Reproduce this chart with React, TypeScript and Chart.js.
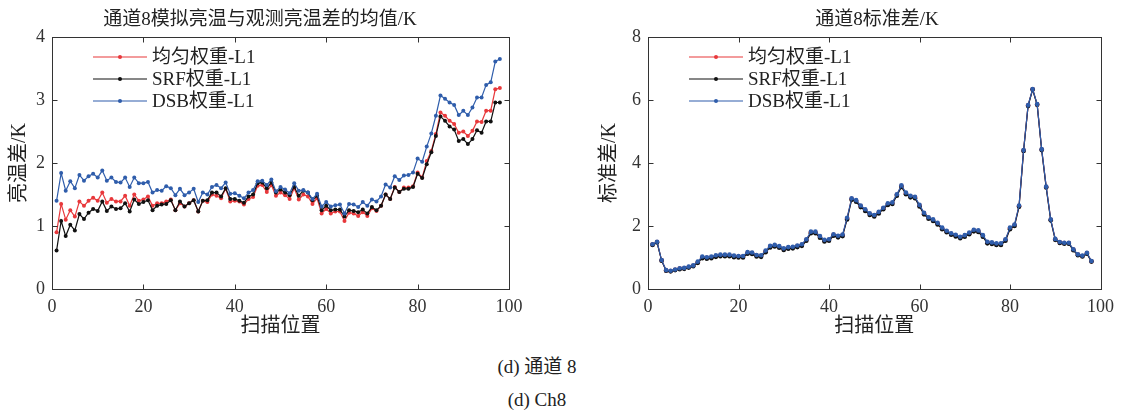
import React, { useEffect, useRef } from "react";
import { Chart, registerables } from "chart.js";
Chart.register(...registerables);

const FONT = '"Liberation Serif", "Noto Sans CJK SC", serif';

const scanPositions = Array.from({ length: 98 }, (_, i) => i + 1);
const xTicks = [0, 20, 40, 60, 80, 100];
const meanYTicks = [0, 1, 2, 3, 4];
const stdYTicks = [0, 2, 4, 6, 8];
const seriesNames = ["均匀权重-L1", "SRF权重-L1", "DSB权重-L1"];
const seriesColors = ["#e8383b", "#111111", "#2f5dab"];

const meanUniform = [
  0.90, 1.35, 1.10, 1.25, 1.15, 1.39, 1.32, 1.40, 1.45, 1.40,
  1.53, 1.37, 1.43, 1.39, 1.39, 1.48, 1.32, 1.50, 1.40, 1.42,
  1.47, 1.32, 1.36, 1.36, 1.39, 1.42, 1.25, 1.36, 1.31, 1.36,
  1.41, 1.23, 1.40, 1.38, 1.50, 1.48, 1.44, 1.59, 1.39, 1.40,
  1.39, 1.34, 1.43, 1.46, 1.64, 1.65, 1.54, 1.65, 1.48, 1.53,
  1.49, 1.43, 1.60, 1.42, 1.50, 1.47, 1.35, 1.44, 1.20, 1.27,
  1.20, 1.23, 1.23, 1.08, 1.21, 1.20, 1.16, 1.22, 1.16, 1.28,
  1.24, 1.32, 1.50, 1.43, 1.62, 1.54, 1.61, 1.61, 1.63, 1.85,
  1.77, 2.03, 2.19, 2.46, 2.80, 2.75, 2.67, 2.62, 2.48, 2.50,
  2.43, 2.51, 2.66, 2.65, 2.83, 2.83, 3.17, 3.19,
];
const meanSRF = [
  0.61, 1.08, 0.84, 1.02, 0.93, 1.19, 1.11, 1.21, 1.27, 1.24,
  1.39, 1.24, 1.31, 1.27, 1.28, 1.36, 1.23, 1.42, 1.35, 1.38,
  1.41, 1.25, 1.32, 1.34, 1.35, 1.41, 1.25, 1.39, 1.31, 1.36,
  1.41, 1.23, 1.40, 1.41, 1.53, 1.53, 1.47, 1.60, 1.43, 1.43,
  1.40, 1.37, 1.47, 1.50, 1.68, 1.69, 1.60, 1.69, 1.53, 1.58,
  1.53, 1.49, 1.62, 1.48, 1.56, 1.53, 1.41, 1.48, 1.25, 1.32,
  1.25, 1.26, 1.26, 1.15, 1.25, 1.24, 1.22, 1.26, 1.20, 1.30,
  1.25, 1.32, 1.50, 1.43, 1.61, 1.54, 1.59, 1.59, 1.62, 1.83,
  1.76, 1.98, 2.17, 2.43, 2.74, 2.67, 2.58, 2.53, 2.35, 2.38,
  2.30, 2.38, 2.52, 2.48, 2.66, 2.66, 2.96, 2.96,
];
const meanDSB = [
  1.40, 1.84, 1.56, 1.71, 1.60, 1.81, 1.72, 1.79, 1.83, 1.77,
  1.88, 1.72, 1.77, 1.70, 1.69, 1.77, 1.62, 1.77, 1.68, 1.68,
  1.70, 1.53, 1.57, 1.56, 1.63, 1.60, 1.49, 1.59, 1.49, 1.53,
  1.59, 1.38, 1.53, 1.50, 1.62, 1.65, 1.60, 1.69, 1.51, 1.52,
  1.48, 1.44, 1.53, 1.57, 1.71, 1.72, 1.65, 1.74, 1.55, 1.62,
  1.58, 1.52, 1.68, 1.56, 1.57, 1.53, 1.43, 1.51, 1.31, 1.38,
  1.31, 1.33, 1.34, 1.20, 1.35, 1.34, 1.30, 1.38, 1.32, 1.42,
  1.39, 1.47, 1.66, 1.61, 1.79, 1.73, 1.80, 1.81, 1.85, 2.07,
  2.02, 2.26, 2.47, 2.75, 3.07, 3.02, 2.96, 2.92, 2.76, 2.83,
  2.76, 2.88, 3.04, 3.04, 3.24, 3.28, 3.61, 3.65,
];

const stdUniform = [
  1.41, 1.49, 0.91, 0.59, 0.57, 0.61, 0.65, 0.66, 0.70, 0.74,
  0.85, 1.01, 0.99, 1.01, 1.05, 1.07, 1.07, 1.07, 1.04, 1.03,
  1.03, 1.15, 1.14, 1.06, 1.05, 1.20, 1.35, 1.38, 1.34, 1.27,
  1.31, 1.32, 1.36, 1.40, 1.56, 1.80, 1.80, 1.66, 1.54, 1.56,
  1.72, 1.67, 1.71, 2.24, 2.86, 2.80, 2.63, 2.51, 2.38, 2.33,
  2.43, 2.56, 2.70, 2.73, 2.99, 3.27, 3.04, 2.94, 2.91, 2.65,
  2.40, 2.26, 2.19, 2.08, 1.93, 1.83, 1.75, 1.70, 1.64, 1.69,
  1.77, 1.86, 1.84, 1.69, 1.48, 1.46, 1.43, 1.43, 1.56, 1.93,
  2.03, 2.63, 4.40, 5.83, 6.34, 5.86, 4.43, 3.24, 2.20, 1.58,
  1.48, 1.46, 1.46, 1.25, 1.09, 1.05, 1.14, 0.88,
];
const stdSRF = [
  1.40, 1.48, 0.90, 0.58, 0.56, 0.60, 0.63, 0.64, 0.68, 0.72,
  0.83, 0.98, 0.96, 0.98, 1.02, 1.04, 1.04, 1.04, 1.01, 1.00,
  1.00, 1.12, 1.11, 1.03, 1.02, 1.17, 1.32, 1.35, 1.31, 1.24,
  1.28, 1.29, 1.33, 1.37, 1.53, 1.77, 1.77, 1.63, 1.51, 1.53,
  1.69, 1.64, 1.68, 2.21, 2.83, 2.77, 2.60, 2.48, 2.35, 2.30,
  2.40, 2.53, 2.67, 2.70, 2.96, 3.24, 3.01, 2.91, 2.88, 2.62,
  2.37, 2.23, 2.16, 2.05, 1.90, 1.80, 1.72, 1.67, 1.61, 1.66,
  1.74, 1.83, 1.81, 1.66, 1.45, 1.43, 1.40, 1.40, 1.53, 1.90,
  2.00, 2.61, 4.38, 5.81, 6.33, 5.85, 4.41, 3.22, 2.18, 1.56,
  1.46, 1.44, 1.44, 1.23, 1.07, 1.03, 1.12, 0.87,
];
const stdDSB = [
  1.42, 1.50, 0.92, 0.60, 0.58, 0.62, 0.66, 0.67, 0.71, 0.75,
  0.87, 1.03, 1.01, 1.03, 1.07, 1.09, 1.09, 1.09, 1.06, 1.05,
  1.05, 1.17, 1.16, 1.08, 1.07, 1.22, 1.37, 1.40, 1.36, 1.29,
  1.33, 1.34, 1.38, 1.42, 1.58, 1.82, 1.82, 1.68, 1.56, 1.58,
  1.74, 1.69, 1.73, 2.26, 2.88, 2.82, 2.65, 2.53, 2.40, 2.35,
  2.45, 2.58, 2.72, 2.75, 3.01, 3.29, 3.06, 2.96, 2.93, 2.67,
  2.42, 2.28, 2.21, 2.10, 1.95, 1.85, 1.77, 1.72, 1.66, 1.71,
  1.79, 1.88, 1.86, 1.71, 1.50, 1.48, 1.45, 1.45, 1.58, 1.95,
  2.05, 2.65, 4.41, 5.84, 6.35, 5.87, 4.44, 3.25, 2.21, 1.59,
  1.49, 1.47, 1.47, 1.26, 1.10, 1.06, 1.15, 0.89,
];

const framePlugin = {
  id: "matlabFrame",
  afterDraw(chart: any) {
    const { ctx, chartArea } = chart;
    const { left, right, top, bottom } = chartArea;
    const xs = chart.scales.x;
    const ys = chart.scales.y;
    ctx.save();
    ctx.strokeStyle = "#333";
    ctx.lineWidth = 1;
    const L = Math.round(left) + 0.5;
    const R = Math.round(right) + 0.5;
    const T = Math.round(top) + 0.5;
    const B = Math.round(bottom) + 0.5;
    ctx.strokeRect(L, T, R - L, B - T);
    ctx.beginPath();
    const tl = 5;
    xs.ticks.forEach((t: any) => {
      const px = Math.round(xs.getPixelForValue(t.value)) + 0.5;
      ctx.moveTo(px, B);
      ctx.lineTo(px, B - tl);
      ctx.moveTo(px, T);
      ctx.lineTo(px, T + tl);
    });
    ys.ticks.forEach((t: any) => {
      const py = Math.round(ys.getPixelForValue(t.value)) + 0.5;
      ctx.moveTo(L, py);
      ctx.lineTo(L + tl, py);
      ctx.moveTo(R, py);
      ctx.lineTo(R - tl, py);
    });
    ctx.stroke();
    ctx.restore();
  },
};

const legendPlugin = {
  id: "innerLegend",
  afterDraw(chart: any) {
    const { ctx, chartArea } = chart;
    ctx.save();
    ctx.font = `19px ${FONT}`;
    ctx.textBaseline = "middle";
    ctx.textAlign = "left";
    seriesNames.forEach((name, i) => {
      const y = chartArea.top + 20 + i * 22;
      const x0 = chartArea.left + 41;
      ctx.strokeStyle = seriesColors[i];
      ctx.lineWidth = 1.2;
      ctx.beginPath();
      ctx.moveTo(x0, y);
      ctx.lineTo(x0 + 54, y);
      ctx.stroke();
      ctx.fillStyle = seriesColors[i];
      ctx.beginPath();
      ctx.arc(x0 + 27, y, 2, 0, Math.PI * 2);
      ctx.fill();
      ctx.fillStyle = "#222";
      ctx.fillText(name, x0 + 59, y + 1);
    });
    ctx.restore();
  },
};

type Props = {
  left: number;
  width: number;
  height: number;
  yTitle: string;
  yMax: number;
  yTicks: number[];
  series: number[][];
  yAxisWidth: number;
  yTitlePad: number;
  padRight: number;
  pointRadius: number;
};

function LineChart(p: Props) {
  const ref = useRef<HTMLCanvasElement>(null);
  useEffect(() => {
    const tickFont = { family: FONT, size: 18 };
    const titleFont = { family: FONT, size: 20 };
    const chart = new Chart(ref.current as HTMLCanvasElement, {
      type: "line",
      data: {
        datasets: p.series.map((vals, i) => ({
          label: seriesNames[i],
          data: scanPositions.map((x, j) => ({ x, y: vals[j] })),
          borderColor: seriesColors[i],
          backgroundColor: seriesColors[i],
          borderWidth: 1.2,
          pointRadius: p.pointRadius,
          pointHoverRadius: p.pointRadius,
          pointBorderWidth: 0,
          tension: 0,
          order: 2 - i,
        })),
      },
      options: {
        animation: false,
        responsive: false,
        maintainAspectRatio: false,
        devicePixelRatio: 1,
        events: [],
        layout: { padding: { top: 37, right: p.padRight, left: 0, bottom: 0 } },
        plugins: {
          legend: { display: false },
          tooltip: { enabled: false },
          title: { display: false },
        },
        scales: {
          x: {
            type: "linear",
            min: 0,
            max: 100,
            afterBuildTicks: (s: any) => {
              s.ticks = xTicks.map((v) => ({ value: v }));
            },
            afterFit: (s: any) => {
              s.height = 56;
            },
            grid: { display: false, drawTicks: false },
            border: { display: false },
            ticks: { font: tickFont, color: "#333", padding: 7, maxRotation: 0, autoSkip: false },
            title: {
              display: true,
              text: "扫描位置",
              font: titleFont,
              color: "#222",
              padding: { top: 0, bottom: 6 },
            },
          },
          y: {
            type: "linear",
            min: 0,
            max: p.yMax,
            afterBuildTicks: (s: any) => {
              s.ticks = p.yTicks.map((v) => ({ value: v }));
            },
            afterFit: (s: any) => {
              s.width = p.yAxisWidth;
            },
            grid: { display: false, drawTicks: false },
            border: { display: false },
            ticks: { font: tickFont, color: "#333", padding: 7, autoSkip: false },
            title: {
              display: true,
              text: p.yTitle,
              font: titleFont,
              color: "#222",
              padding: { top: p.yTitlePad, bottom: 0 },
            },
          },
        },
      },
      plugins: [framePlugin, legendPlugin],
    } as any);
    return () => chart.destroy();
  }, []);
  return (
    <canvas
      ref={ref}
      width={p.width}
      height={p.height}
      style={{ position: "absolute", left: p.left, top: 0, width: p.width, height: p.height }}
    />
  );
}

const textStyle: React.CSSProperties = {
  position: "absolute",
  fontFamily: FONT,
  fontSize: 19,
  color: "#222",
  textAlign: "center",
  whiteSpace: "nowrap",
  lineHeight: "22px",
  height: 22,
};

export default function App() {
  return (
    <div
      style={{
        position: "fixed",
        left: 0,
        top: 0,
        width: 1121,
        height: 413,
        background: "#fff",
        overflow: "hidden",
      }}
    >
      <LineChart
        left={0}
        width={560}
        height={345}
        yTitle="亮温差/K"
        yMax={4}
        yTicks={meanYTicks}
        series={[meanUniform, meanSRF, meanDSB]}
        yAxisWidth={52}
        yTitlePad={8}
        padRight={51}
        pointRadius={2}
      />
      <LineChart
        left={560}
        width={561}
        height={345}
        yTitle="标准差/K"
        yMax={8}
        yTicks={stdYTicks}
        series={[stdUniform, stdSRF, stdDSB]}
        yAxisWidth={88}
        yTitlePad={38}
        padRight={18}
        pointRadius={2.3}
      />
      <div style={{ ...textStyle, left: 60, width: 400, top: 8 }}>通道8模拟亮温与观测亮温差的均值/K</div>
      <div style={{ ...textStyle, left: 677, width: 400, top: 8 }}>通道8标准差/K</div>
      <div style={{ ...textStyle, left: 337, width: 400, top: 356 }}>(d) 通道 8</div>
      <div style={{ ...textStyle, left: 337, width: 400, top: 389 }}>(d) Ch8</div>
    </div>
  );
}
